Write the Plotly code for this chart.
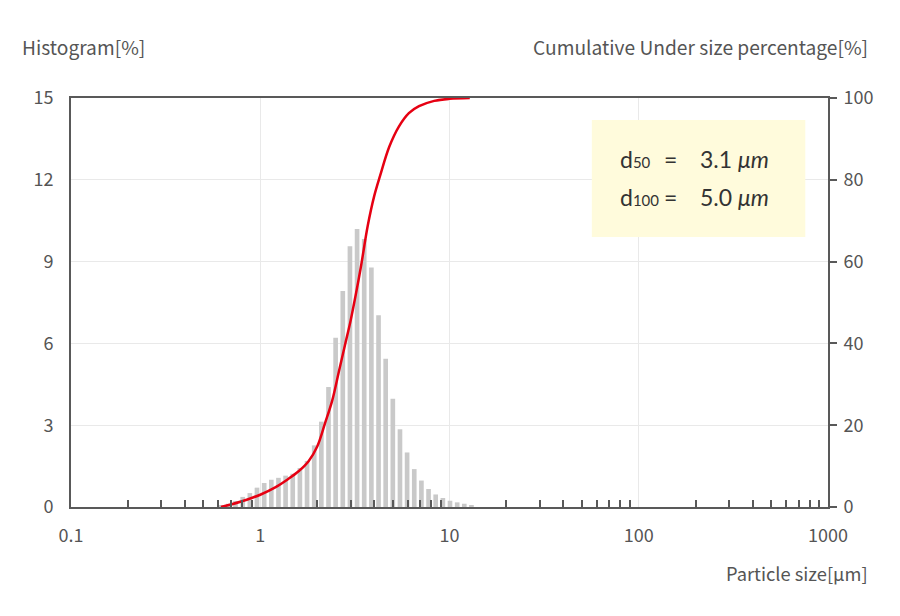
import plotly.graph_objects as go

# particle size (um) at the bar centres, and histogram values (%)
sizes = [0.622, 0.679, 0.740, 0.808, 0.881, 0.961, 1.049, 1.144, 1.248, 1.361,
         1.485, 1.620, 1.767, 1.928, 2.103, 2.294, 2.502, 2.730, 2.978, 3.248,
         3.543, 3.866, 4.217, 4.600, 5.018, 5.474, 5.970, 6.513, 7.105, 7.750,
         8.455, 9.224, 10.06, 10.98, 11.97, 13.06]
hist = [0.05, 0.12, 0.22, 0.37, 0.51, 0.71, 0.88, 1.00, 1.07, 1.15,
        1.22, 1.43, 1.69, 2.26, 3.13, 4.40, 6.21, 7.92, 9.56, 10.20,
        9.83, 8.78, 7.03, 5.44, 3.97, 2.85, 2.00, 1.39, 0.97, 0.66,
        0.46, 0.33, 0.23, 0.17, 0.12, 0.07]

# cumulative under size curve (%)
cum_sizes = [0.62, 0.70, 0.80, 0.90, 1.0, 1.2, 1.4, 1.6, 1.8, 2.0, 2.2, 2.4, 2.6,
             2.8, 3.0, 3.2, 3.4, 3.7, 4.0, 4.3, 4.8, 5.4, 6.1, 6.9, 8.3, 10.0, 12.8]
cum = [0, 0.6, 1.4, 2.2, 3.0, 4.8, 6.8, 8.8, 11.2, 14.8, 20.5, 26, 33,
       39.5, 45.5, 52, 58.6, 68.8, 76, 81, 88, 93, 96.3, 98, 99.3, 99.8, 100]

x_ticks = [0.1, 1, 10, 100, 1000]
x_ticktext = ['0.1', '1', '10', '100', '1000']
x_minor = [m * d for d in [0.1, 1, 10, 100] for m in range(2, 10)]

font_main = 'Noto Sans CJK JP'
text_col = '#555555'
axis_col = '#595959'

# bars on a log axis: width is in data units, so give each bar its own
# lower/upper edge (same width in log space)
f = 1.0287
bar_offset = [s / f - s for s in sizes]
bar_width = [s * f - s / f for s in sizes]

fig = go.Figure()

fig.add_trace(go.Bar(x=sizes, y=hist, offset=bar_offset, width=bar_width,
                     marker=dict(color='#c9c9c9', line=dict(width=0)),
                     yaxis='y', showlegend=False))
fig.add_trace(go.Scatter(x=cum_sizes, y=cum, mode='lines', yaxis='y2',
                         line=dict(color='#e60012', width=2.5, shape='spline'),
                         showlegend=False))

# page body adds ~8px offset, margins are shifted to compensate
fig.update_layout(
    width=900, height=616,
    margin=dict(l=63, r=80, t=90, b=117),
    paper_bgcolor='white', plot_bgcolor='white',
    font=dict(family=font_main, size=18, color=text_col),
    xaxis=dict(type='log', range=[-1, 3], tickvals=x_ticks, ticktext=x_ticktext,
               ticks='', showgrid=True, gridcolor='#e9e9e9', gridwidth=1,
               showline=True, linecolor=axis_col, linewidth=2, mirror=True,
               ticklabelstandoff=11, automargin=False,
               minor=dict(tickvals=x_minor, ticks='inside', ticklen=7,
                          tickcolor=axis_col, tickwidth=1.5, showgrid=False),
               zeroline=False),
    yaxis=dict(range=[0, 15], dtick=3, ticks='', showgrid=True, gridcolor='#e9e9e9',
               showline=True, linecolor=axis_col, linewidth=2, zeroline=False,
               ticklabelstandoff=12, automargin=False),
    yaxis2=dict(range=[0, 100], dtick=20, overlaying='y', side='right',
                ticks='outside', ticklen=7, tickcolor=axis_col, tickwidth=1.5,
                showgrid=False, showline=True, linecolor=axis_col, linewidth=2,
                zeroline=False, ticklabelstandoff=3, automargin=False),
)

# axis titles
fig.add_annotation(text='Histogram[%]', xref='paper', yref='paper', x=-0.067, y=1.124,
                   xanchor='left', yanchor='middle', showarrow=False, font=dict(size=19.2))
fig.add_annotation(text='Cumulative Under size percentage[%]', xref='paper', yref='paper',
                   x=1.055, y=1.124, xanchor='right', yanchor='middle', showarrow=False,
                   font=dict(size=19.2))
fig.add_annotation(text='Particle size[µm]', xref='paper', yref='paper', x=1.055, y=-0.161,
                   xanchor='right', yanchor='middle', showarrow=False, font=dict(size=18.3))

# d50 / d100 box
fig.add_shape(type='rect', xref='paper', yref='paper', x0=0.688, x1=0.970, y0=0.660, y1=0.946,
              fillcolor='#fffbdc', line=dict(width=0), layer='above')
box_font = dict(family='Lato', size=23, color='#333333')
rows = [('d<span style="font-size:15px">50</span>', '3.1 <i>μm</i>', 0.851),
        ('d<span style="font-size:15px">100</span>', '5.0 <i>μm</i>', 0.758)]
for lab, val, yy in rows:
    fig.add_annotation(text=lab, xref='paper', yref='paper', x=0.722, y=yy,
                       xanchor='left', yanchor='middle', showarrow=False, font=box_font)
    fig.add_annotation(text='=', xref='paper', yref='paper', x=0.792, y=yy,
                       xanchor='center', yanchor='middle', showarrow=False, font=box_font)
    fig.add_annotation(text=val, xref='paper', yref='paper', x=0.828, y=yy,
                       xanchor='left', yanchor='middle', showarrow=False, font=box_font)

fig.write_html("out.html")
